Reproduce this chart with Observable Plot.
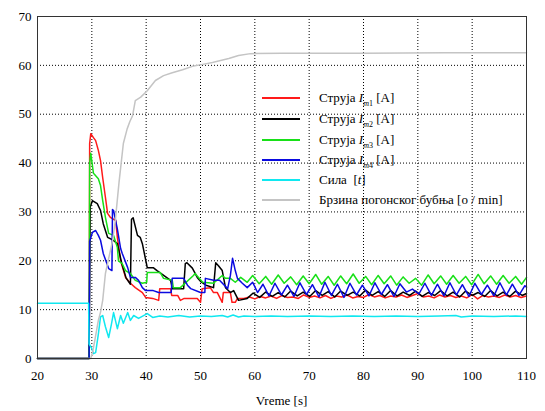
<!DOCTYPE html>
<html><head><meta charset="utf-8">
<script src="https://cdn.jsdelivr.net/npm/d3@7"></script>
<script src="https://cdn.jsdelivr.net/npm/@observablehq/plot@0.6"></script>
</head><body style="margin:0;background:#fff">
<div id="wrap"></div>
<div style="position:absolute;left:262px;top:97px;width:38px;height:2px;background:#ff1a1a"></div>
<div style="position:absolute;left:262px;top:118px;width:38px;height:2px;background:#000000"></div>
<div style="position:absolute;left:262px;top:139px;width:38px;height:2px;background:#18e018"></div>
<div style="position:absolute;left:262px;top:159px;width:38px;height:2px;background:#0a0ae0"></div>
<div style="position:absolute;left:262px;top:179px;width:38px;height:2px;background:#10e8f0"></div>
<div style="position:absolute;left:262px;top:199px;width:38px;height:2px;background:#c4c4c4"></div>
<div style="position:absolute;left:319px;top:90px;white-space:nowrap;font-size:13px;line-height:16px;font-family:'Liberation Serif',serif">Струја <i>I</i><sub style="font-size:8px"><i>m</i>1</sub> [A]</div>
<div style="position:absolute;left:319px;top:111px;white-space:nowrap;font-size:13px;line-height:16px;font-family:'Liberation Serif',serif">Струја <i>I</i><sub style="font-size:8px"><i>m</i>2</sub> [A]</div>
<div style="position:absolute;left:319px;top:132px;white-space:nowrap;font-size:13px;line-height:16px;font-family:'Liberation Serif',serif">Струја <i>I</i><sub style="font-size:8px"><i>m</i>3</sub> [A]</div>
<div style="position:absolute;left:319px;top:152px;white-space:nowrap;font-size:13px;line-height:16px;font-family:'Liberation Serif',serif">Струја <i>I</i><sub style="font-size:8px"><i>m</i>4</sub> [A]</div>
<div style="position:absolute;left:319px;top:172px;white-space:nowrap;font-size:13px;line-height:16px;font-family:'Liberation Serif',serif">Сила&nbsp; [<i>t</i>]</div>
<div style="position:absolute;left:319px;top:192px;white-space:nowrap;font-size:13px;line-height:16px;font-family:'Liberation Serif',serif">Брзина погонског бубња [o / min]</div>
<div style="position:absolute;left:0;top:393px;width:545px;text-align:center;padding-left:18px;box-sizing:border-box;font-size:13px;line-height:16px;font-family:'Liberation Serif',serif">Vreme [s]</div>
<script>
const xTicks = [20,30,40,50,60,70,80,90,100,110];
const yTicks = [0,10,20,30,40,50,60,70];
const xGrid = [30,40,50,60,70,80,90,100];
const yGrid = [10,20,30,40,50,60];

const tIm1 = [20,29.5,29.6,29.8,30.3,30.7,31.2,31.6,32,32.5,32.9,33.4,34.4,34.7,35.3,36.2,37.1,38,39.3,39.9,41.2,42.3,42.5,44.5,44.7,45.8,46.3,47,49.4,50,50.3,51.8,52.4,53.1,54,54.2,55.5,55.8,56.4,56.8,58,59,60,61,62,63,64,65,66,67,68,69,70,71,72,73,74,75,76,77,78,79,80,81,82,83,84,85,86,87,88,89,90,91,92,93,94,95,96,97,98,99,100,101,102,103,104,105,106,107,108,109,110];
const vIm1 = [0,0,44,46,45.2,44.6,42.6,40.5,37,33,29.7,28.9,28.2,24.8,20,16.6,15.4,14.5,13.5,12.5,12.3,11.9,14.3,14.3,12.9,12.9,11.9,12.3,12.3,11.5,14.3,14.5,13.5,13.5,11.5,13.5,13.5,11.5,11.5,12.3,12.3,12.6,12.2,12.7,12.4,12.8,12.3,12.9,12.5,12.6,12.3,13.0,12.5,12.8,12.4,12.9,12.3,12.8,12.6,13.0,12.4,12.7,12.5,13.1,12.6,12.9,12.4,12.8,12.6,13.0,12.5,12.9,13.3,12.6,12.8,12.4,13.0,12.6,12.9,12.5,12.8,12.4,13.1,12.2,12.9,12.6,12.8,12.5,13.0,12.6,12.9,12.5,12.8];

const tIm2 = [20,29.5,29.7,30.1,31,31.6,32.1,32.9,33.8,34.7,35.5,36.3,37.1,37.3,37.6,38.4,38.9,39.3,40.2,41.3,42,44.5,44.8,46.9,47.2,47.5,48.5,49.4,50,51,52.4,52.8,53.3,54,54.6,55.5,56.1,57,58.6,59.7,60.9,62,63.2,64.3,65.5,66.6,67.8,68.9,70.1,71.2,72.4,73.5,74.7,75.8,77,78.1,79.3,80.4,81.6,82.7,83.9,85,86.2,87.3,88.5,89.6,90.8,91.9,93.1,94.2,95.4,96.5,97.7,98.8,100,101.1,102.3,103.4,104.6,105.7,106.9,108,109.2,110];
const vIm2 = [0,0,31,32.3,31.7,30.3,27.6,24.8,24.3,23.5,19.5,16.5,15.2,28.5,28.8,25.2,24.8,23.5,18.6,18.6,18,16,14.3,14.3,19.4,19.6,18.5,16.6,15.8,15,14.5,19.6,19,18,14.5,13.5,13.9,11.9,12.3,13.4,12.5,13.6,12.7,13.5,12.6,13.8,12.8,13.6,12.7,13.9,12.9,13.7,12.6,13.8,12.9,13.6,12.8,14.0,12.9,13.7,12.7,13.9,12.8,13.6,12.9,13.8,12.7,13.5,12.9,13.9,12.8,13.6,12.6,13.8,12.9,13.5,12.7,13.9,12.8,13.6,12.7,13.8,12.9,13.3];

const tIm3 = [20,29.5,29.6,29.8,30.3,31.2,31.6,32,32.5,33.1,34,34.7,34.9,35.6,36.2,37.1,38,39.3,40.1,40.2,42.6,43.2,44.8,45,46.3,48.7,49,50.4,52.4,54,54.6,55.5,56.4,57.4,58.6,59.6,60.8,62,63.1,64.3,65.4,66.6,67.7,68.9,70,71.2,72.3,73.5,74.6,75.8,76.9,78.1,79.2,80.4,81.5,82.7,83.8,85,86.1,87.3,88.4,89.6,90.7,91.9,93,94.2,95.3,96.5,97.6,98.8,99.9,101.1,102.2,103.4,104.5,105.7,106.8,108,109.1,110];
const vIm3 = [0,0,40,42,37.9,36.8,35.4,32.3,28.9,25.6,25.2,22.7,20,19.4,18,17.4,16,15.4,15.6,17.6,17.6,16.4,16,14.5,14.5,17,17.4,15.6,15.4,17,16.4,16.4,15.6,16.6,15.6,17.0,15.3,16.8,15.2,17.1,15.4,16.7,15.1,16.9,15.3,17.2,15.2,16.8,15.0,16.9,15.3,17.3,15.4,16.8,15.1,17.0,15.3,16.9,15.0,16.7,15.4,16.4,15.0,17.1,15.3,16.9,15.2,17.0,15.4,16.8,15.1,17.2,15.3,16.9,15.2,17.0,15.4,16.8,15.2,16.6];

const tIm4 = [20,29.5,29.6,30.1,30.7,31.2,31.6,32.1,33.1,33.7,33.8,34,34.7,35.3,35.6,36.6,37.1,38,38.6,39.3,39.9,41.3,42.3,44.6,44.8,46.9,47.6,48.2,50,50.8,50.9,52.4,53.5,55,55.5,55.9,56.4,56.8,57.7,58.6,59.6,60.5,61.5,62.6,63.7,64.9,66,67.2,68.3,69.5,70.6,71.8,72.9,74.1,75.2,76.4,77.5,78.7,79.8,81,82.1,83.3,84.4,85.6,86.7,87.9,89,90.2,91.3,92.5,93.6,94.8,95.9,97.1,98.2,99.4,100.5,101.7,102.8,104,105.1,106.3,107.4,108.6,109.7,110];
const vIm4 = [0,0,24,25.8,26.2,25.2,24.2,21.5,18.4,18,30.5,30.3,26.5,22.5,21.5,18.6,16.6,16.6,16,14.5,13.9,13.9,13.5,13.5,16.4,16.4,15,14.3,13.5,13.5,16.4,16,16,14.3,17,20.5,18,16.4,15.4,14.5,15.6,13.5,15.2,12.8,15.4,13.0,15.0,12.7,15.5,13.1,15.1,12.6,15.6,12.9,15.2,12.5,15.4,13.0,15.0,12.8,15.5,13.1,15.1,12.7,15.3,13.6,14.2,13.2,15.4,12.9,15.2,12.8,15.5,13.0,15.1,12.7,15.4,13.1,15.0,12.8,15.5,13.0,15.2,12.9,14.9,14.6];

const tSila = [20,29.4,29.5,30,30.3,30.7,31.2,31.6,32,32.5,33.1,33.6,34,34.7,35.3,35.8,36.6,37.1,37.7,38.6,40.2,41.2,42.5,44,46,48,50,52,54,55,56,57,58,60,63,66,70,74,78,82,86,90,94,97,98,100,104,108,110];
const vSila = [11.3,11.3,3,2,1.0,1.2,5,8.5,8.8,6.5,4.3,7,9.4,6.1,8.8,7.2,9.4,7.8,8.8,8.2,9.2,8.4,8.7,8.5,8.8,8.5,8.7,8.6,8.8,8.5,8.9,8.5,8.7,8.6,8.7,8.6,8.7,8.6,8.7,8.6,8.7,8.6,8.7,8.8,8.5,8.7,8.6,8.7,8.6];

const tBrz = [20,29.8,30.2,30.6,31.2,31.6,32,32.5,33,33.8,34.3,35,35.4,35.8,36.5,37,37.5,38,39,40.2,41.7,43.2,44.8,46.7,48.5,50.4,52.2,55.2,57,59.2,65,80,95,110];
const vBrz = [0,0,1.6,4,7.8,9.5,11.9,17.4,20,24,28,36,40,44,47,48.5,49.7,52.8,53.5,54.8,56.9,57.9,58.5,59.1,59.8,60.2,60.6,61.4,62,62.4,62.5,62.5,62.6,62.6];

const seriesColors = ["#ff1a1a","#000000","#18e018","#0a0ae0","#10e8f0","#c4c4c4"];
const tAll = [tIm1,tIm2,tIm3,tIm4,tSila,tBrz];
const vAll = [vIm1,vIm2,vIm3,vIm4,vSila,vBrz];

const marks = [
  Plot.ruleX(xGrid,{stroke:"black", strokeDasharray:"1,2"}),
  Plot.ruleY(yGrid,{stroke:"black", strokeDasharray:"1,2"})
];
for (let i = 0; i < 6; i++) {
  const d = tAll[i].map((t,j)=>({t:t, v:vAll[i][j]}));
  marks.push(Plot.line(d,{x:"t", y:"v", stroke:seriesColors[i], strokeWidth:1.5}));
}
marks.push(Plot.frame({stroke:"#333"}));
marks.push(Plot.axisX(xTicks,{tickSize:0,tickPadding:12,label:null,fontSize:13,fontFamily:"Liberation Serif"}));
marks.push(Plot.axisY(yTicks,{tickSize:0,tickPadding:6,label:null,fontSize:13,fontFamily:"Liberation Serif"}));

const chart = Plot.plot({
  width:545, height:411,
  marginLeft:37, marginRight:19, marginTop:16, marginBottom:53,
  x:{domain:[20,110]},
  y:{domain:[0,70]},
  marks: marks
});
document.getElementById("wrap").appendChild(chart);
</script></body></html>
